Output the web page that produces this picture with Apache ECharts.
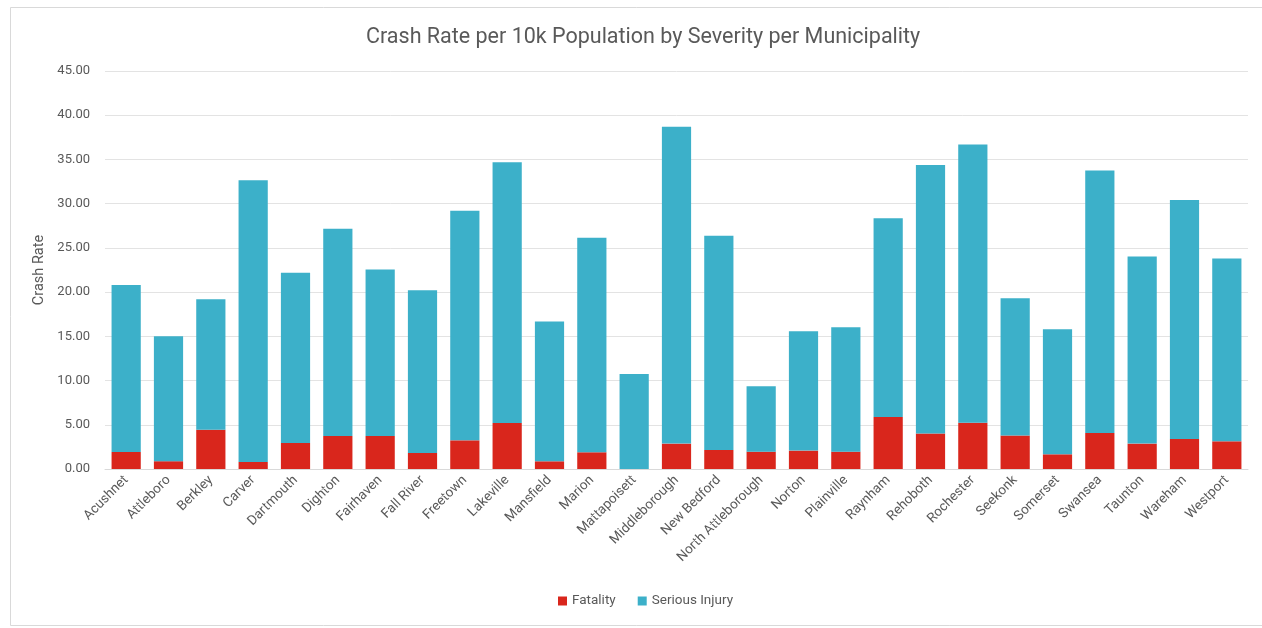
<!DOCTYPE html>
<html>
<head>
<meta charset="utf-8">
<title>Crash Rate per 10k Population by Severity per Municipality</title>
<script src="https://cdn.jsdelivr.net/npm/echarts@6/dist/echarts.min.js"></script>
<style>
  html, body { margin: 0; padding: 0; background: #ffffff; }
  #chart { width: 1262px; height: 628px; }
</style>
</head>
<body>
<div id="chart"></div>
<script>
// Municipalities on the x axis
const municipalities = [
  'Acushnet', 'Attleboro', 'Berkley', 'Carver', 'Dartmouth', 'Dighton',
  'Fairhaven', 'Fall River', 'Freetown', 'Lakeville', 'Mansfield', 'Marion',
  'Mattapoisett', 'Middleborough', 'New Bedford', 'North Attleborough',
  'Norton', 'Plainville', 'Raynham', 'Rehoboth', 'Rochester', 'Seekonk',
  'Somerset', 'Swansea', 'Taunton', 'Wareham', 'Westport'
];

// Fatality crash rate per 10k population
const fatality = [
  1.92, 0.88, 4.45, 0.80, 2.94, 3.73,
  3.73, 1.81, 3.24, 5.19, 0.87, 1.89,
  0.00, 2.87, 2.15, 1.96,
  2.08, 1.96, 5.87, 4.00, 5.24, 3.80,
  1.66, 4.07, 2.87, 3.39, 3.13
];

// Serious injury crash rate per 10k population (stacked above fatality)
const seriousInjury = [
  18.88, 14.12, 14.75, 31.85, 19.26, 23.42,
  18.84, 18.41, 25.96, 29.49, 15.81, 24.26,
  10.73, 35.84, 24.23, 7.41,
  13.50, 14.07, 22.47, 30.37, 31.46, 15.51,
  14.15, 29.69, 21.15, 27.03, 20.66
];

const yTicks = { min: 0, max: 45, interval: 5 };

const textGray = '#595959';
const chart = echarts.init(document.getElementById('chart'), null, { renderer: 'canvas' });

chart.setOption({
  backgroundColor: '#ffffff',
  animation: false,
  title: {
    text: 'Crash Rate per 10k Population by Severity per Municipality',
    left: 361,
    top: 22,
    textStyle: {
      fontFamily: 'Roboto',
      fontSize: 21.5,
      fontWeight: 'normal',
      color: textGray
    }
  },
  graphic: [{
    type: 'rect',
    left: 8,
    top: 5,
    shape: { width: 1260, height: 618 },
    style: { fill: 'none', stroke: '#d9d9d9', lineWidth: 1 },
    silent: true,
    z: -1
  }],
  legend: {
    bottom: 15,
    left: 553,
    itemWidth: 9,
    itemHeight: 9,
    itemGap: 22,
    icon: 'rect',
    textStyle: { fontFamily: 'Roboto', fontSize: 13.5, color: textGray },
    data: ['Fatality', 'Serious Injury']
  },
  grid: {
    left: 105,
    right: 14,
    top: 71,
    bottom: 159,
    containLabel: false
  },
  xAxis: {
    type: 'category',
    data: municipalities,
    axisTick: { show: false },
    axisLine: { lineStyle: { color: '#d9d9d9' } },
    axisLabel: {
      rotate: 45,
      interval: 0,
      margin: 9,
      fontFamily: 'Roboto',
      fontSize: 13.5,
      color: textGray
    }
  },
  yAxis: {
    type: 'value',
    min: yTicks.min,
    max: yTicks.max,
    interval: yTicks.interval,
    name: 'Crash Rate',
    nameLocation: 'middle',
    nameGap: 58,
    nameRotate: 90,
    nameTextStyle: { fontFamily: 'Roboto', fontSize: 14.5, color: textGray },
    axisLine: { show: false },
    axisTick: { show: false },
    splitLine: { lineStyle: { color: '#e3e3e3', width: 1 } },
    axisLabel: {
      margin: 15,
      fontFamily: 'Roboto',
      fontSize: 13,
      color: textGray,
      formatter: v => v.toFixed(2)
    }
  },
  series: [
    {
      name: 'Fatality',
      type: 'bar',
      stack: 'rate',
      data: fatality,
      barCategoryGap: '31%',
      itemStyle: { color: '#D9261C' }
    },
    {
      name: 'Serious Injury',
      type: 'bar',
      stack: 'rate',
      data: seriousInjury,
      barCategoryGap: '31%',
      itemStyle: { color: '#3CB0C9' }
    }
  ]
});
</script>
</body>
</html>
